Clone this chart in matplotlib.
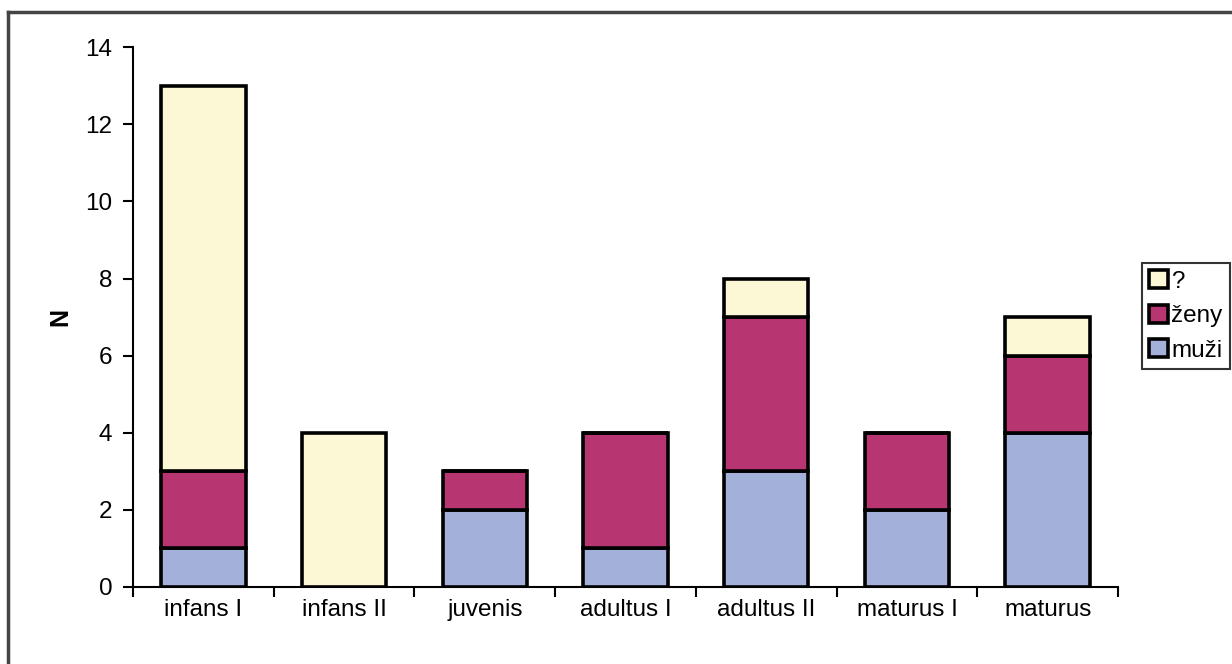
import matplotlib.pyplot as plt
from matplotlib.patches import Patch
from matplotlib.lines import Line2D
import numpy as np

plt.rcParams['font.family'] = ['Liberation Sans', 'DejaVu Sans']

categories = ["infans I", "infans II", "juvenis", "adultus I", "adultus II", "maturus I", "maturus"]
muzi = [1, 0, 2, 1, 3, 2, 4]
zeny = [2, 0, 1, 3, 4, 2, 2]
unknown = [10, 4, 0, 0, 1, 0, 1]

c_muzi = '#a3b0da'
c_zeny = '#b73571'
c_unknown = '#fcf8d6'

fig = plt.figure(figsize=(12.32, 6.64), dpi=100)
ax = fig.add_axes([0.108, 0.116, 0.7995, 0.813])

x = np.arange(len(categories))
w = 0.6
muzi = np.array(muzi)
zeny = np.array(zeny)
unknown = np.array(unknown)

lw = 2.6
ax.bar(x, muzi, w, color=c_muzi, edgecolor='black', linewidth=lw, label='muži', zorder=3)
ax.bar(x, zeny, w, bottom=muzi, color=c_zeny, edgecolor='black', linewidth=lw, label='ženy', zorder=3)
ax.bar(x, unknown, w, bottom=muzi + zeny, color=c_unknown, edgecolor='black', linewidth=lw, label='?', zorder=3)

ax.set_xlim(-0.5, len(categories) - 0.5)
ax.set_ylim(0, 14)
ax.set_yticks(range(0, 15, 2))
ax.set_xticks(x)
ax.set_xticklabels(categories)
ax.set_xticks(np.arange(-0.5, len(categories), 1), minor=True)
ax.tick_params(axis='x', which='major', length=0, pad=9, labelsize=17.5)
ax.tick_params(axis='x', which='minor', length=7, width=1.5, direction='out')
ax.tick_params(axis='y', length=7, width=1.5, direction='out', pad=8, labelsize=17.5)

for s in ['top', 'right']:
    ax.spines[s].set_visible(False)
for s in ['left', 'bottom']:
    ax.spines[s].set_linewidth(1.5)

ax.set_ylabel('N', fontsize=18, fontweight='bold', labelpad=9)

handles = [Patch(facecolor=c_unknown, edgecolor='black', linewidth=2.6, label='?'),
           Patch(facecolor=c_zeny, edgecolor='black', linewidth=2.6, label='ženy'),
           Patch(facecolor=c_muzi, edgecolor='black', linewidth=2.6, label='muži')]
leg = fig.legend(handles=handles, loc='upper left', bbox_to_anchor=(1142 / 1232, 1 - 263 / 664),
                 fontsize=17.5, frameon=True, fancybox=False, edgecolor='black',
                 handlelength=0.75, handleheight=0.75, handletextpad=0.15,
                 borderpad=0.3, labelspacing=0.5, borderaxespad=0)
leg.get_frame().set_linewidth(1.5)

# outer frame (top and left edges visible)
fig.add_artist(Line2D([8 / 1232, 1], [1 - 12 / 664, 1 - 12 / 664], color='#444444', linewidth=2.5, transform=fig.transFigure))
fig.add_artist(Line2D([8 / 1232, 8 / 1232], [0, 1 - 12 / 664], color='#444444', linewidth=2.5, transform=fig.transFigure))

fig.savefig('out.png', dpi=100)
